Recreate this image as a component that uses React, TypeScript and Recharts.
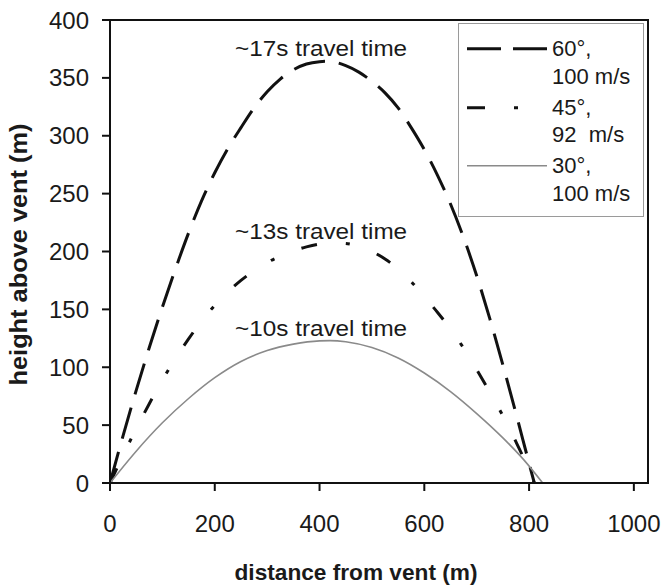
import { LineChart, Line, XAxis, YAxis, ReferenceArea, ReferenceDot, Legend } from 'recharts';

// distance from vent (m) / height above vent (m)
const dist60 = [0, 25, 50, 75, 100, 125, 150, 175, 200, 225, 250, 275, 300, 325, 350, 375, 400, 415, 430, 450, 475, 500, 525, 550, 575, 600, 625, 650, 675, 700, 725, 750, 775, 800, 810];
const height60 = [0, 41, 80, 117, 152, 185, 216, 244, 268, 289, 307, 324, 338, 349, 357, 362, 364, 364.3, 363.5, 360.5, 355, 347, 337, 324, 307, 288, 266, 241, 212, 179, 142, 102, 60, 17, 0];

const dist45 = [0, 25, 50, 75, 100, 125, 150, 175, 200, 225, 250, 275, 300, 325, 350, 375, 400, 425, 450, 475, 500, 525, 550, 575, 600, 625, 650, 675, 700, 725, 750, 775, 800, 810];
const height45 = [0, 24, 47, 68.5, 89, 107.5, 124.5, 140, 153.5, 165, 175, 183.5, 190.5, 196, 200.5, 204, 206.5, 207.5, 207, 204.5, 200, 193.5, 185, 174, 161, 147.5, 133, 116.5, 98, 78.5, 58, 35.5, 11, 0];

const dist30 = [0, 50, 100, 150, 200, 250, 300, 350, 400, 420, 450, 500, 550, 600, 650, 700, 750, 790, 826];
const height30 = [0, 27.5, 52, 73, 91, 105, 114.5, 120, 122.8, 123, 122, 117, 108, 95, 79, 60, 39, 20, 0];

const xTicks = [0, 200, 400, 600, 800, 1000];
const yTicks = [0, 50, 100, 150, 200, 250, 300, 350, 400];

const toRows = (xs: number[], ys: number[]) => xs.map((x, i) => ({ x, y: ys[i] }));

const series = [
  { id: 's60', line1: '60°,', line2: '100 m/s', rows: toRows(dist60, height60), stroke: '#111', width: 3, dash: '32 14', legendDash: '34 12' },
  { id: 's45', line1: '45°,', line2: '92  m/s', rows: toRows(dist45, height45), stroke: '#111', width: 3, dash: '16 29 4 29', legendDash: '18 29 4 29' },
  { id: 's30', line1: '30°,', line2: '100 m/s', rows: toRows(dist30, height30), stroke: '#8a8a8a', width: 1.6, dash: undefined, legendDash: undefined },
];

const notes = [
  { x: 403, y: 369, text: '~17s travel time' },
  { x: 403, y: 210.6, text: '~13s travel time' },
  { x: 403, y: 127, text: '~10s travel time' },
];

const FONT = '"Liberation Sans", Arial, Helvetica, sans-serif';
const INK = '#1a1a1a';

const Note = ({ viewBox, text }: any) => (
  <text x={viewBox.x} y={viewBox.y} textAnchor="middle" fontFamily={FONT} fontSize={22}
    fill={INK} textLength={172} lengthAdjust="spacingAndGlyphs">
    {text}
  </text>
);

const LegendBox = () => (
  <div style={{
    width: 186, height: 194, boxSizing: 'border-box', border: '1px solid #9a9a9a',
    background: '#fff', paddingTop: 11, fontFamily: FONT, fontSize: 22, color: INK,
  }}>
    {series.map((s) => (
      <div key={s.id} style={{ display: 'flex', height: 58.5 }}>
        <svg width={93} height={27.5} style={{ flexShrink: 0 }}>
          <line x1={8} x2={88} y1={13.75} y2={13.75} stroke={s.stroke}
            strokeWidth={s.width} strokeDasharray={s.legendDash} />
        </svg>
        <div style={{ lineHeight: '27.5px', whiteSpace: 'pre' }}>
          {s.line1}
          <br />
          {s.line2}
        </div>
      </div>
    ))}
  </div>
);

export default function App() {
  return (
    <div style={{ position: 'absolute', left: 0, top: 0 }}>
      <LineChart width={662} height={585} margin={{ top: 20, right: 14, left: 50, bottom: 42 }}>
        <XAxis
          dataKey="x" type="number" domain={[0, 1027]} ticks={xTicks} allowDataOverflow
          stroke="#111" strokeWidth={2} tickSize={8} tickMargin={24} height={60}
          tick={{ fill: INK, fontSize: 24, fontFamily: FONT }}
          label={(p: any) => (
            <text x={p.viewBox.x + 246} y={p.viewBox.y + 97} textAnchor="middle" fontFamily={FONT}
              fontSize={22} fontWeight="bold" fill={INK} textLength={243} lengthAdjust="spacingAndGlyphs">
              distance from vent (m)
            </text>
          )}
        />
        <YAxis
          type="number" domain={[0, 400]} ticks={yTicks} allowDataOverflow
          stroke="#111" strokeWidth={2} tickSize={8} tickMargin={13} width={60}
          tick={{ fill: INK, fontSize: 24, fontFamily: FONT }}
          label={(p: any) => {
            const cx = p.viewBox.x - 23;
            const cy = p.viewBox.y + p.viewBox.height / 2 + 3;
            return (
              <text x={cx} y={cy} transform={`rotate(-90, ${cx}, ${cy})`} textAnchor="middle"
                fontFamily={FONT} fontSize={23} fontWeight="bold" fill={INK}
                textLength={262} lengthAdjust="spacingAndGlyphs">
                height above vent (m)
              </text>
            );
          }}
        />
        <ReferenceArea x1={0} x2={1027} y1={0} y2={400} fill="none" stroke="#111" strokeWidth={2} />
        {series.map((s) => (
          <Line
            key={s.id} data={s.rows} dataKey="y" type="monotone" stroke={s.stroke}
            strokeWidth={s.width} strokeDasharray={s.dash} dot={false} activeDot={false}
            isAnimationActive={false} legendType="none"
          />
        ))}
        {notes.map((n) => (
          <ReferenceDot key={n.text} x={n.x} y={n.y} r={0} fill="none" stroke="none"
            label={<Note text={n.text} />} />
        ))}
        <Legend layout="vertical" align="center" verticalAlign="middle"
          wrapperStyle={{ left: 458, top: 23, width: 186, height: 194 }}
          content={() => <LegendBox />} />
      </LineChart>
    </div>
  );
}
